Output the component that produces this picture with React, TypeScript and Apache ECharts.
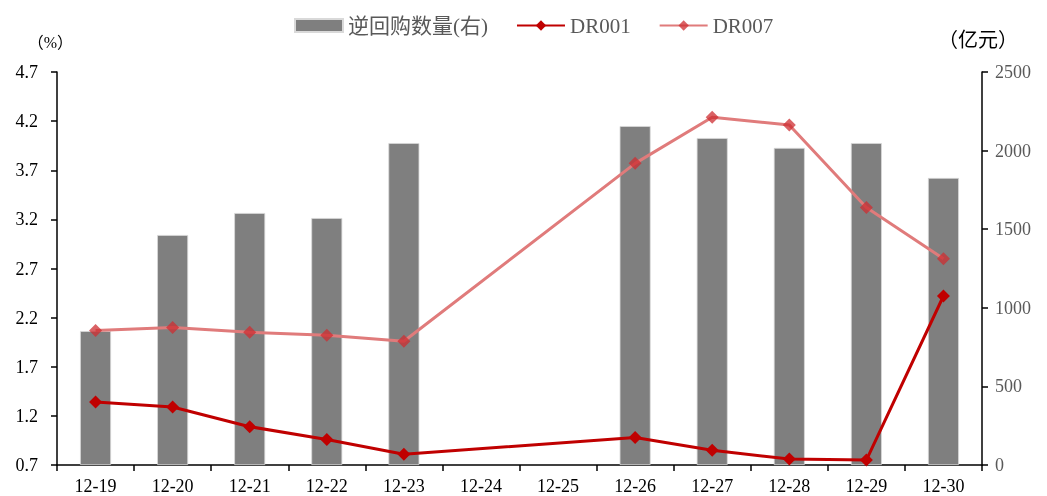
import React, { useEffect, useRef } from "react";
import * as echarts from "echarts";

const categories = ["12-19", "12-20", "12-21", "12-22", "12-23", "12-24", "12-25", "12-26", "12-27", "12-28", "12-29", "12-30"];
const repoVolume = [852, 1463, 1603, 1571, 2048, null, null, 2156, 2080, 2017, 2048, 1826];
const dr001 = [1.34, 1.29, 1.09, 0.96, 0.81, null, null, 0.98, 0.85, 0.76, 0.75, 2.42];
const dr007 = [2.07, 2.10, 2.05, 2.02, 1.96, null, null, 3.77, 4.24, 4.16, 3.32, 2.80];

const serif = "'Liberation Serif', 'Noto Sans CJK SC', serif";

export default function App() {
  const ref = useRef<HTMLDivElement>(null);
  useEffect(() => {
    const chart = echarts.init(ref.current!, null, { renderer: "svg" });
    chart.setOption({
      animation: false,
      textStyle: { fontFamily: serif },
      legend: {
        top: 10,
        left: 289,
        itemGap: 28,
        itemWidth: 48,
        itemHeight: 13,
        textStyle: { fontSize: 21, color: "#595959", fontFamily: serif },
        data: [
          { name: "逆回购数量(右)", icon: "rect" },
          { name: "DR001" },
          { name: "DR007" },
        ],
      },
      grid: { left: 57, right: 65, top: 72, bottom: 31 },
      xAxis: {
        type: "category",
        data: categories,
        axisLine: { lineStyle: { color: "#000", width: 1.5 } },
        axisTick: { show: true, length: 6, lineStyle: { color: "#000", width: 1.5 } },
        axisLabel: { color: "#000", fontSize: 18, fontFamily: serif, margin: 12 },
      },
      yAxis: [
        {
          type: "value",
          min: 0.7,
          max: 4.7,
          interval: 0.5,
          name: "（%）",
          nameLocation: "end",
          nameGap: 22,
          nameTextStyle: { color: "#000", fontSize: 16, fontFamily: serif, align: "right", padding: [0, -16, 0, 0] },
          splitLine: { show: false },
          axisLine: { show: true, lineStyle: { color: "#000", width: 1.5 } },
          axisTick: { show: true, length: 6, lineStyle: { color: "#000", width: 1.5 } },
          axisLabel: { color: "#000", fontSize: 18, fontFamily: serif, margin: 19, formatter: (v: number) => v.toFixed(1) },
        },
        {
          type: "value",
          min: 0,
          max: 2500,
          interval: 500,
          name: "（亿元）",
          nameLocation: "end",
          nameGap: 22,
          nameTextStyle: { color: "#000", fontSize: 20, fontFamily: serif, align: "left", padding: [0, 0, 0, -44] },
          splitLine: { show: false },
          axisLine: { show: true, lineStyle: { color: "#000", width: 1.5 } },
          axisTick: { show: true, length: 6, lineStyle: { color: "#000", width: 1.5 } },
          axisLabel: { color: "#595959", fontSize: 18, fontFamily: serif, margin: 13, formatter: (v: number) => String(v) },
        },
      ],
      series: [
        {
          name: "逆回购数量(右)",
          type: "bar",
          yAxisIndex: 1,
          data: repoVolume,
          barWidth: 31,
          itemStyle: { color: "#7f7f7f", borderColor: "#d9d9d9", borderWidth: 0.8 },
        },
        {
          name: "DR001",
          type: "line",
          yAxisIndex: 0,
          data: dr001,
          connectNulls: true,
          symbol: "diamond",
          symbolSize: 13,
          lineStyle: { color: "#c00000", width: 3 },
          itemStyle: { color: "#c00000" },
        },
        {
          name: "DR007",
          type: "line",
          yAxisIndex: 0,
          data: dr007,
          connectNulls: true,
          symbol: "diamond",
          symbolSize: 13,
          lineStyle: { color: "#e07b7b", width: 3 },
          itemStyle: { color: "rgba(205,45,50,0.75)" },
        },
      ],
    });
    return () => chart.dispose();
  }, []);
  return <div ref={ref} style={{ position: "fixed", left: 0, top: 0, width: 1047, height: 496 }} />;
}
